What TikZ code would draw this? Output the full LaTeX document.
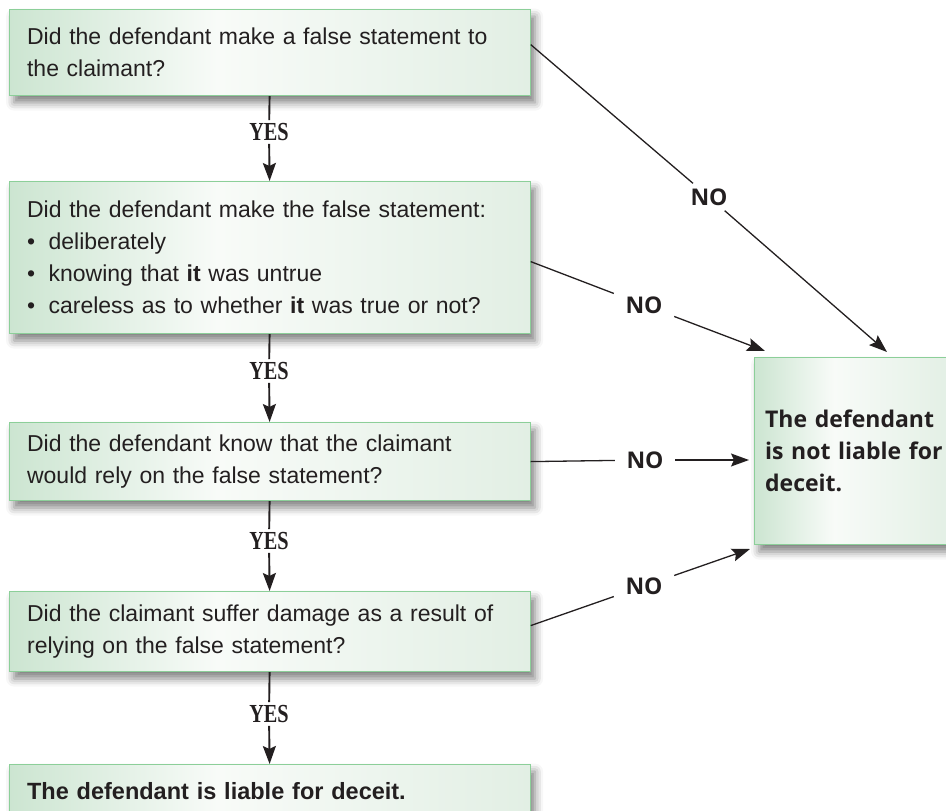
\documentclass[tikz,border=0pt]{standalone}
\usepackage{fontspec}
\usepackage{graphicx}
\setmainfont{Liberation Sans}
\newfontfamily\labelsans{Open Sans}
\newfontfamily\labelserif{Liberation Serif}
\usetikzlibrary{arrows.meta,shadows.blur,calc}

\definecolor{gL}{HTML}{CCE5D1}
\definecolor{gM}{HTML}{F8FBF8}
\definecolor{gR}{HTML}{E2EFE4}
\definecolor{edge}{HTML}{8CCF99}
\definecolor{ink}{HTML}{231F20}

% green-to-white-to-green fill running across each box
\pgfdeclarehorizontalshading{boxfill}{100bp}{color(0bp)=(gL); color(25bp)=(gL); color(45bp)=(gM); color(75bp)=(gR); color(100bp)=(gR)}

\newcommand{\itembullet}{\makebox[21.5pt][l]{\textbullet}}

\tikzset{
  qbox/.style={rectangle, draw=edge, line width=1.2pt, shading=boxfill,
    blur shadow={shadow xshift=5pt, shadow yshift=-7pt, shadow blur radius=8pt, shadow opacity=50},
    anchor=north west, inner xsep=18pt, inner ysep=0pt, text width=485pt,
    align=left, text=ink, font=\fontsize{23}{32}\selectfont},
  endbox/.style={qbox, text width=178pt, inner xsep=11pt,
    font=\labelsans\bfseries\fontsize{23}{32}\selectfont},
  yeslabel/.style={inner sep=3pt, text=ink,
    font=\labelserif\bfseries\fontsize{26}{26}\selectfont},
  nolabel/.style={inner xsep=11.5pt, inner ysep=5pt, text=ink,
    font=\labelsans\bfseries\fontsize{23}{23}\selectfont},
  yesline/.style={line width=1.9pt, draw=ink},
  noline/.style={line width=1.3pt, draw=ink},
  tip/.style={-{Stealth[length=18pt,width=13pt,inset=3pt]}},
}

\begin{document}
\begin{tikzpicture}[x=1pt, y=-1pt]
\useasboundingbox (0,0) rectangle (946,811);

% question boxes down the left
\node[qbox, minimum height=86pt] (b1) at (8.5,9)
  {Did the defendant make a false statement to\\the claimant?};
\node[qbox, minimum height=152pt] (b2) at (8.5,181)
  {Did the defendant make the false statement:\\
   \itembullet deliberately\\
   \itembullet knowing that \textbf{it} was untrue\\
   \itembullet careless as to whether \textbf{it} was true or not?};
\node[qbox, minimum height=78pt] (b3) at (8.5,422)
  {Did the defendant know that the claimant\\would rely on the false statement?};
\node[qbox, minimum height=80pt] (b4) at (8.5,591)
  {Did the claimant suffer damage as a result of\\relying on the false statement?};
\node[qbox, minimum height=52pt, font=\bfseries\fontsize{23.5}{32}\selectfont] (b5) at (8.5,764)
  {The defendant is liable for deceit.};

% outcome box on the right
\node[endbox, minimum height=187pt] (nl) at (753.5,357)
  {The defendant\\is not liable for\\deceit.};

% YES labels
\node[yeslabel] (y1) at (269,132) {\scalebox{0.78}[1]{YES}};
\node[yeslabel] (y2) at (269,371) {\scalebox{0.78}[1]{YES}};
\node[yeslabel] (y3) at (269,541) {\scalebox{0.78}[1]{YES}};
\node[yeslabel] (y4) at (269,714) {\scalebox{0.78}[1]{YES}};

% NO labels
\node[nolabel] (n1) at (709,197) {NO};
\node[nolabel] (n2) at (644,305) {NO};
\node[nolabel] (n3) at (645,460) {NO};
\node[nolabel] (n4) at (644,586) {NO};

% arrow ends around the outcome box
\coordinate (t1) at (887,352);
\coordinate (t2) at (765,351);
\coordinate (t3) at (749,460);
\coordinate (t4) at (750,549);

% YES connectors
\draw[yesline] (b1.south) -- (y1);
\draw[yesline, tip] (y1) -- (b2.north);
\draw[yesline] (b2.south) -- (y2);
\draw[yesline, tip] (y2) -- (b3.north);
\draw[yesline] (b3.south) -- (y3);
\draw[yesline, tip] (y3) -- (b4.north);
\draw[yesline] (b4.south) -- (y4);
\draw[yesline, tip] (y4) -- (b5.north);

% NO connectors
\draw[noline] ($(b1.east)+(0,-8)$) -- (n1);
\draw[noline, tip] (n1) -- (t1);
\draw[noline] ($(b2.east)+(0,4)$) -- (n2);
\draw[noline, tip] (n2) -- (t2);
\draw[noline] (b3.east) -- (n3);
\draw[noline, tip] (n3) -- (t3);
\draw[noline] ($(b4.east)+(0,-6)$) -- (n4);
\draw[noline, tip] (n4) -- (t4);
\end{tikzpicture}
\end{document}
